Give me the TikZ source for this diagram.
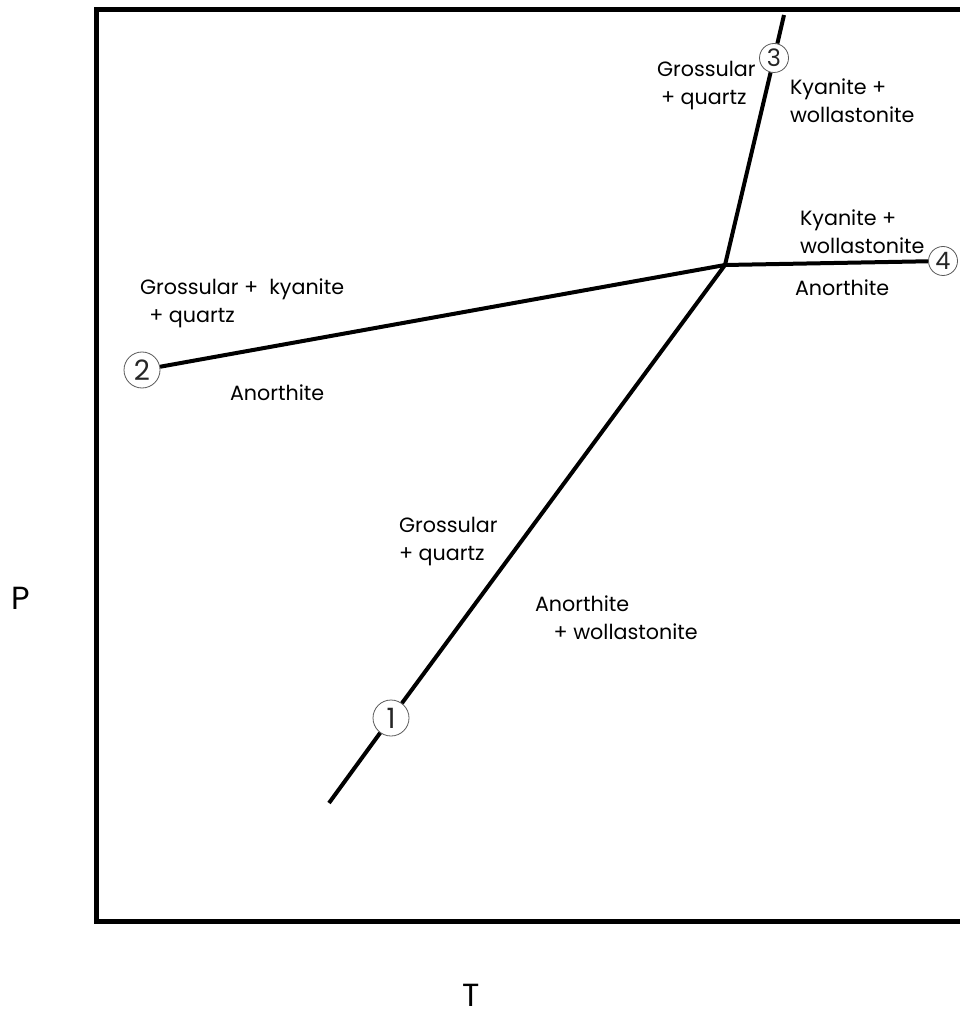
\documentclass[tikz,border=0pt]{standalone}
\usepackage{fontspec}
\setmainfont{Poppins}
\usetikzlibrary{positioning}
\usetikzlibrary{calc}
\tikzset{every picture/.style={line width=3pt,x={(0.75pt,0)},y={(0,-0.75pt)}},
  frame/.style={line width=3.75pt,line cap=rect},
  num/.style={circle,draw=black!65,line width=0.6pt,inner sep=0pt,minimum size=27pt,font=\fontsize{21}{21}\selectfont\color{black!85}},
  smallnum/.style={num,minimum size=21.75pt,font=\fontsize{18}{18}\selectfont\color{black!85}},
  lab/.style={anchor=west,align=left,inner sep=0pt,font=\fontsize{15.5}{21}\selectfont},
  axis/.style={inner sep=0pt,font=\fontsize{24}{24}\selectfont}}

\begin{document}
\begin{tikzpicture}
\useasboundingbox (0,0) rectangle (959,1019);
\draw[frame] (970,9.5) -- (96,9.5) -- (96,921.5) -- (970,921.5);
\node[num] (n1) at (391,718) {1};
\node[num] (n2) at (142,370) {2};
\node[smallnum] (n3) at (774,58) {3};
\node[smallnum] (n4) at (943,261) {4};
\coordinate (ip) at (725,265);
\coordinate (top) at (784,15);
\coordinate (bot) at (329,803);
\draw (bot) -- (n1);
\draw (n1) -- (ip);
\draw (ip) -- (n3);
\draw (n3) -- (top);
\draw (n2) -- (ip);
\draw (ip) -- (n4);
\node[lab] (gq3) at (655,86) {Grossular\\\hspace*{3pt}+ quartz};
\node[lab] (kw3) at (788,101) {Kyanite +\\wollastonite};
\node[lab] (kw4) at (798,232) {Kyanite +\\wollastonite};
\node[lab] (an4) at (793,288) {Anorthite};
\node[lab] (gkq) at (138,303) {Grossular +\ \ kyanite\\\hspace*{7pt}+ quartz};
\node[lab] (an2) at (228,393) {Anorthite};
\node[lab] (gq1) at (397,542) {Grossular\\+ quartz};
\node[lab] (aw1) at (533,618) {Anorthite\\\hspace*{14pt}+ wollastonite};
\node[axis] (pp) at (21,598) {P};
\node[axis] (tt) at (471,995) {T};
\end{tikzpicture}
\end{document}
